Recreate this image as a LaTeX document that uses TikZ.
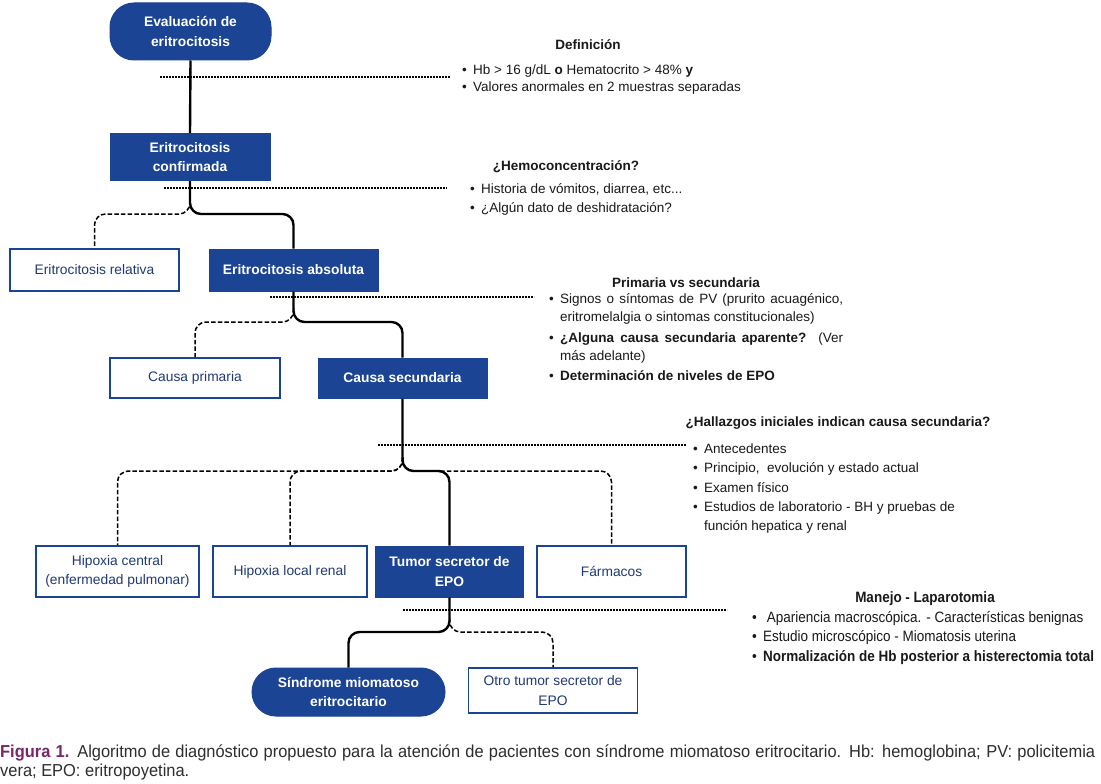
\documentclass[tikz,border=0pt]{standalone}
\usepackage{fontspec}
\setmainfont{Liberation Sans}
\newfontfamily\narrowfont[FakeStretch=0.9]{Liberation Sans}
\newfontfamily\capfont[FakeStretch=0.95]{Liberation Sans}
\usetikzlibrary{calc}
\definecolor{bluefill}{RGB}{28,68,148}
\definecolor{bluetext}{RGB}{32,58,115}
\definecolor{figpurple}{RGB}{120,38,108}
\definecolor{captext}{RGB}{45,45,45}
\definecolor{bodytext}{RGB}{25,25,25}
\tikzset{
  boxbase/.style={rectangle, align=center, inner sep=0pt},
  bluebox/.style={boxbase, fill=bluefill, draw=bluefill, line width=1pt, text=white, font=\fontsize{13.8}{19.5}\selectfont\bfseries},
  whitebox/.style={boxbase, fill=white, draw=bluefill, line width=1.6pt, text=bluetext, font=\fontsize{13.8}{19.5}\selectfont},
  solidc/.style={draw=black, line width=2.4pt, rounded corners=11pt},
  dashc/.style={draw=black, line width=1.5pt, dash pattern=on 4.5pt off 2.2pt, rounded corners=11pt},
  dotc/.style={draw=black, line width=2.2pt, dash pattern=on 1.6pt off 1.4pt},
  rtext/.style={inner sep=0pt, text=bodytext, font=\fontsize{13.5}{19}\selectfont},
  rhead/.style={inner sep=0pt, text=bodytext, font=\fontsize{13.5}{19}\selectfont\bfseries},
  ntext/.style={inner sep=0pt, text=bodytext, font=\fontsize{15}{19}\selectfont\narrowfont},
  nhead/.style={inner sep=0pt, text=bodytext, font=\fontsize{15}{19}\selectfont\narrowfont\bfseries},
  captxt/.style={inner sep=0pt, text=captext, font=\fontsize{17.3}{19}\selectfont\capfont},
}
\newcommand\bline[5][rtext]{\node[#1, anchor=base west] (#2) at (#3,#4) {\makebox[11pt][l]{\textbullet}#5};}
\begin{document}
\begin{tikzpicture}[x=1pt,y=-1pt]
\useasboundingbox[fill=white] (0,0) rectangle (1101,784);

% boxes
\node[bluebox, rounded corners=24pt, minimum width=161pt, minimum height=57pt] (eval) at (190.5,31.5) {Evaluación de\\eritrocitosis};
\node[bluebox, minimum width=160pt, minimum height=47pt] (conf) at (190,157) {Eritrocitosis\\confirmada};
\node[whitebox, minimum width=169pt, minimum height=42pt] (rel) at (94.5,270) {Eritrocitosis relativa};
\node[bluebox, minimum width=169pt, minimum height=42pt] (abs) at (293.5,270) {Eritrocitosis absoluta};
\node[whitebox, minimum width=170pt, minimum height=40pt] (prim) at (195,378) {Causa primaria};
\node[bluebox, minimum width=169pt, minimum height=40pt] (sec) at (402.5,378) {Causa secundaria};
\node[whitebox, minimum width=163pt, minimum height=51pt] (hc) at (117.5,571.5) {Hipoxia central\\(enfermedad pulmonar)};
\node[whitebox, minimum width=154pt, minimum height=51pt] (hl) at (290,571.5) {Hipoxia local renal};
\node[bluebox, minimum width=148pt, minimum height=51pt] (tum) at (449.5,571.5) {Tumor secretor de\\EPO};
\node[whitebox, minimum width=149pt, minimum height=51pt] (farm) at (611.5,571.5) {Fármacos};
\node[bluebox, rounded corners=24pt, minimum width=193pt, minimum height=48pt] (sind) at (348.5,692) {Síndrome miomatoso\\eritrocitario};
\node[whitebox, minimum width=169pt, minimum height=45pt] (otro) at (553,690.5) {Otro tumor secretor de\\EPO};

% dotted guide lines
\coordinate (d1a) at (160,77);  \coordinate (d1b) at (450,77);
\coordinate (d2a) at (164,188); \coordinate (d2b) at (447,188);
\coordinate (d3a) at (270,297); \coordinate (d3b) at (534,297);
\coordinate (d4a) at (378,445); \coordinate (d4b) at (686,445);
\coordinate (d5a) at (403,610); \coordinate (d5b) at (727,610);
\draw[dotc] (d1a) -- (d1b);
\draw[dotc] (d2a) -- (d2b);
\draw[dotc] (d3a) -- (d3b);
\draw[dotc] (d4a) -- (d4b);
\draw[dotc] (d5a) -- (d5b);

% connectors
\draw[solidc] (eval.south) -- (conf.north);
\coordinate (b1) at (190,214);
\draw[dashc] ($(b1)+(0,-14)$) -- (b1) -| (rel.north);
\draw[solidc] (conf.south) -- (b1) -| (abs.north);
\coordinate (b2) at (293.5,322);
\draw[dashc] ($(b2)+(0,-14)$) -- (b2) -| (prim.north);
\draw[solidc] (abs.south) -- (b2) -| (sec.north);
\coordinate (b3) at (402.5,471);
\draw[dashc] ($(b3)+(0,-14)$) -- (b3) -| (hc.north);
\draw[dashc] ($(b3)+(0,-14)$) -- (b3) -| (hl.north);
\draw[dashc] ($(b3)+(0,-14)$) -- (b3) -| (farm.north);
\draw[solidc] (sec.south) -- (b3) -| (tum.north);
\coordinate (b4) at (449.5,632);
\draw[dashc] ($(b4)+(0,-14)$) -- (b4) -| (otro.north);
\draw[solidc] (tum.south) -- (b4) -| (sind.north);

% Definicion
\node[rhead, anchor=base] (defh) at (588,50) {Definición};
\bline{def1}{462}{75}{Hb > 16 g/dL \textbf{o} Hematocrito > 48\% \textbf{y}}
\bline{def2}{462}{91.5}{Valores anormales en 2 muestras separadas}

% Hemoconcentracion
\node[rhead, anchor=base] (hemh) at (566,170) {¿Hemoconcentración?};
\bline{hem1}{470}{193}{Historia de vómitos, diarrea, etc...}
\bline{hem2}{470}{212}{¿Algún dato de deshidratación?}

% Primaria vs secundaria
\node[rhead, anchor=base] (prih) at (686,287) {Primaria vs secundaria};
\bline{pri1}{549}{303}{\makebox[283pt][s]{Signos o síntomas de PV (prurito acuagénico,}}
\node[rtext, anchor=base west] (pri1b) at (560,321) {eritromelalgia o sintomas constitucionales)};
\bline{pri2}{549}{342}{\makebox[283pt][s]{\textbf{¿Alguna causa secundaria aparente?} (Ver}}
\node[rtext, anchor=base west] (pri2b) at (560,360) {más adelante)};
\bline{pri3}{549}{380}{\textbf{Determinación de niveles de EPO}}

% Hallazgos
\node[rhead, anchor=base] (halh) at (838,426) {¿Hallazgos iniciales indican causa secundaria?};
\bline{hal1}{693}{453.5}{Antecedentes}
\bline{hal2}{693}{472.5}{Principio,\ \ evolución y estado actual}
\bline{hal3}{693}{492.5}{Examen físico}
\bline{hal4}{693}{511.5}{Estudios de laboratorio - BH y pruebas de}
\node[rtext, anchor=base west] (hal4b) at (704,530.5) {función hepatica y renal};

% Manejo
\node[nhead, anchor=base] (manh) at (925,602) {Manejo - Laparotomia};
\bline[ntext]{man1}{752}{622.5}{\ Apariencia macroscópica. - Características benignas}
\bline[ntext]{man2}{752}{641.5}{Estudio microscópico - Miomatosis uterina}
\bline[ntext]{man3}{752}{661.5}{\textbf{Normalización de Hb posterior a histerectomia total}}

% caption
\node[captxt, anchor=base west] (cap1) at (0,757) {\makebox[1095pt][s]{\textcolor{figpurple}{\bfseries Figura 1.} Algoritmo de diagnóstico propuesto para la atención de pacientes con síndrome miomatoso eritrocitario. Hb: hemoglobina; PV: policitemia}};
\node[captxt, anchor=base west] (cap2) at (0,776) {vera; EPO: eritropoyetina.};
\end{tikzpicture}
\end{document}
